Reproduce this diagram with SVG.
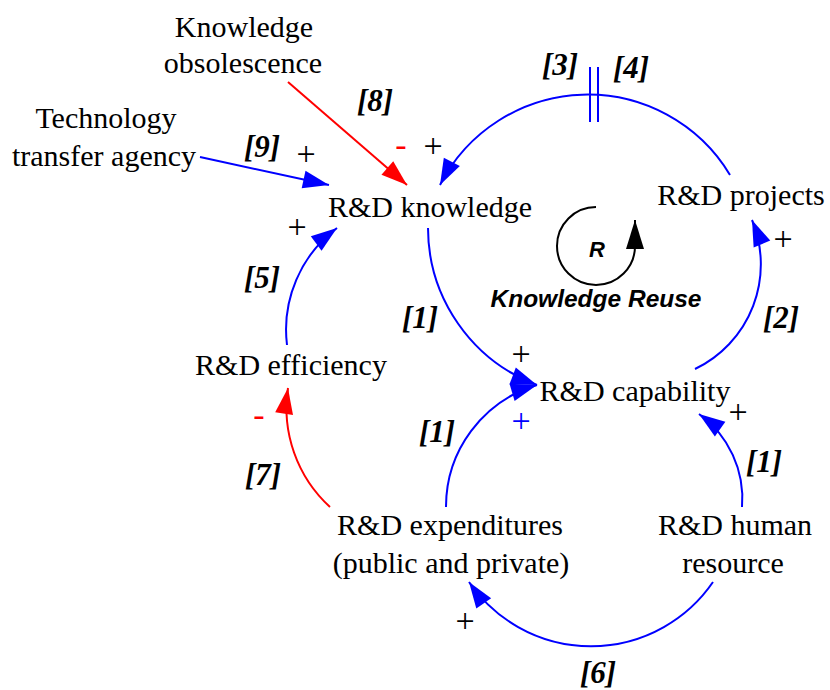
<svg xmlns="http://www.w3.org/2000/svg" width="830" height="690" viewBox="0 0 830 690">
  <style>
    .node { font-family: "Liberation Serif", "Times New Roman", serif; font-size: 30px; fill: #000; text-anchor: middle; }
    .tag { font-family: "Liberation Serif", "Times New Roman", serif; font-size: 31px; font-weight: bold; font-style: italic; fill: #000; text-anchor: middle; }
    .sign { font-family: "Liberation Serif", "Times New Roman", serif; font-size: 34px; text-anchor: middle; }
    .pos { fill: #000; }
    .posb { fill: #0000ff; }
    .neg { fill: #ff0000; font-size: 34px; }
    .link { fill: none; stroke-width: 2; }
    .blue { stroke: #0000ff; }
    .red { stroke: #ff0000; }
    .loop { font-family: "Liberation Sans", Arial, sans-serif; font-weight: bold; font-style: italic; fill: #000; text-anchor: middle; }
  </style>
  <defs>
    <marker id="ahBlue" markerUnits="userSpaceOnUse" markerWidth="27" markerHeight="18" refX="26" refY="9" orient="auto" overflow="visible">
      <path d="M0,0 L26,9 L0,18 Z" fill="#0000ff"/>
    </marker>
    <marker id="ahRed" markerUnits="userSpaceOnUse" markerWidth="27" markerHeight="18" refX="26" refY="9" orient="auto" overflow="visible">
      <path d="M0,0 L26,9 L0,18 Z" fill="#ff0000"/>
    </marker>
    <marker id="ahBlack" markerUnits="userSpaceOnUse" markerWidth="30" markerHeight="18" refX="29" refY="9" orient="auto" overflow="visible">
      <path d="M0,0 L29,9 L0,18 Z" fill="#000"/>
    </marker>
  </defs>

  <!-- causal links -->
  <g id="connectors">
    <path class="link red" d="M288,82 L407,185" marker-end="url(#ahRed)"/>
    <path class="link blue" d="M200,157 L329,185" marker-end="url(#ahBlue)"/>
    <path class="link blue" d="M730,175 A166,166 0 0 0 440,185" marker-end="url(#ahBlue)"/>
    <path class="link blue" d="M590,67 V122 M598,67 V122"/>
    <path class="link blue" d="M428,228 A168,168 0 0 0 537,385" marker-end="url(#ahBlue)"/>
    <path class="link blue" d="M695,369 A116,116 0 0 0 752,220" marker-end="url(#ahBlue)"/>
    <path class="link blue" d="M287,345 A127,127 0 0 1 337,228" marker-end="url(#ahBlue)"/>
    <path class="link red" d="M330,507 A134,134 0 0 1 288,388" marker-end="url(#ahRed)"/>
    <path class="link blue" d="M446,507 A127,127 0 0 1 537,385" marker-end="url(#ahBlue)"/>
    <path class="link blue" d="M742,507 A104,104 0 0 0 699,414" marker-end="url(#ahBlue)"/>
    <path class="link blue" d="M713,582 A148,148 0 0 1 469,582" marker-end="url(#ahBlue)"/>

    <!-- link tags -->
    <text class="tag" x="375" y="111">[8]</text>
    <text class="tag" x="262" y="157">[9]</text>
    <text class="tag" x="560" y="75">[3]</text>
    <text class="tag" x="631" y="78">[4]</text>
    <text class="tag" x="262" y="288">[5]</text>
    <text class="tag" x="420" y="328">[1]</text>
    <text class="tag" x="781" y="328">[2]</text>
    <text class="tag" x="437" y="442">[1]</text>
    <text class="tag" x="764" y="472">[1]</text>
    <text class="tag" x="263" y="485">[7]</text>
    <text class="tag" x="598" y="683">[6]</text>

    <!-- polarity signs -->
    <text class="sign pos" x="306" y="165">+</text>
    <text class="sign neg" x="401" y="156">-</text>
    <text class="sign pos" x="433" y="157">+</text>
    <text class="sign pos" x="297" y="238">+</text>
    <text class="sign pos" x="783" y="250">+</text>
    <text class="sign pos" x="521" y="365">+</text>
    <text class="sign posb" x="521" y="432">+</text>
    <text class="sign pos" x="738" y="423">+</text>
    <text class="sign pos" x="465" y="632">+</text>
    <text class="sign neg" x="259" y="426">-</text>
  </g>

  <!-- reinforcing loop marker -->
  <g id="loop-R">
    <path d="M596,207 A39,39 0 1 0 635,246 L635,220" fill="none" stroke="#000" stroke-width="2" marker-end="url(#ahBlack)"/>
    <text class="loop" x="597" y="257" font-size="22">R</text>
    <text class="loop" x="596" y="307" font-size="24.5">Knowledge Reuse</text>
  </g>

  <g id="knowledge-obsolescence">
    <text class="node" x="244" y="37">Knowledge</text>
    <text class="node" x="243" y="73">obsolescence</text>
  </g>
  <g id="technology-transfer-agency">
    <text class="node" x="106" y="128">Technology</text>
    <text class="node" x="104" y="166">transfer agency</text>
  </g>
  <g id="rd-knowledge">
    <text class="node" x="430" y="217">R&amp;D knowledge</text>
  </g>
  <g id="rd-projects">
    <text class="node" x="741" y="205">R&amp;D projects</text>
  </g>
  <g id="rd-efficiency">
    <text class="node" x="291" y="375">R&amp;D efficiency</text>
  </g>
  <g id="rd-capability">
    <text class="node" x="635" y="401">R&amp;D capability</text>
  </g>
  <g id="rd-expenditures">
    <text class="node" x="450" y="535">R&amp;D expenditures</text>
    <text class="node" x="451" y="573">(public and private)</text>
  </g>
  <g id="rd-human-resource">
    <text class="node" x="735" y="535">R&amp;D human</text>
    <text class="node" x="733" y="573">resource</text>
  </g>
</svg>
